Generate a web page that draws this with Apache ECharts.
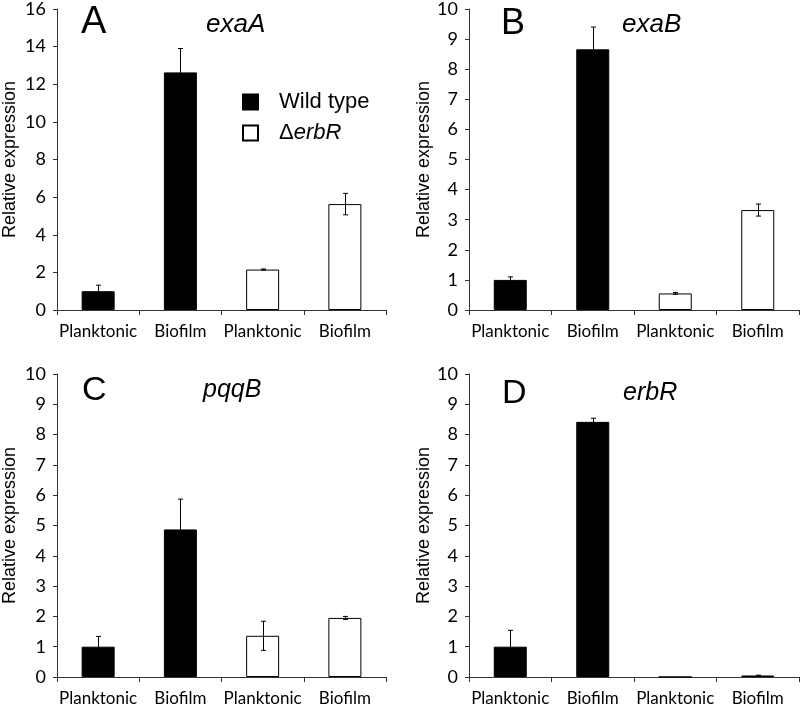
<!DOCTYPE html>
<html><head><meta charset="utf-8">
<script src="https://cdn.jsdelivr.net/npm/echarts@6/dist/echarts.min.js"></script>
<style>html,body{margin:0;padding:0;background:#fff}#c{width:800px;height:707px}</style>
</head><body><div id="c"></div>
<script>
const categories = ['Planktonic', 'Biofilm', 'Planktonic', 'Biofilm'];
const genotypeOfBar = ['Wild type', 'Wild type', 'ΔerbR', 'ΔerbR'];
const genotypes = ['Wild type', 'ΔerbR'];
const panelLetters = ['A', 'B', 'C', 'D'];
const geneNames = ['exaA', 'exaB', 'pqqB', 'erbR'];

const exaA = [1.0, 12.63, 2.15, 5.63];
const exaAErr = [0.32, 1.27, 0.03, 0.57];
const exaB = [1.0, 8.66, 0.55, 3.32];
const exaBErr = [0.10, 0.74, 0.03, 0.20];
const pqqB = [1.0, 4.87, 1.36, 1.95];
const pqqBErr = [0.34, 1.00, 0.48, 0.05];
const erbR = [1.0, 8.42, 0.0, 0.05];
const erbRErr = [0.54, 0.12, 0.0, 0.01];

const yMax = [16, 10, 10, 10];
const yInterval = [2, 1, 1, 1];
const yTitle = 'Relative expression';

const values = [exaA, exaB, pqqB, erbR];
const errors = [exaAErr, exaBErr, pqqBErr, erbRErr];

// layout (pixels)
const grids = [
  {left: 55, top: 7, width: 331, height: 303},
  {left: 469, top: 7, width: 330, height: 303},
  {left: 55, top: 374, width: 331, height: 303},
  {left: 469, top: 374, width: 330, height: 303}
];
const nameGaps = [38, 34, 38, 34];
// bottom of text box for panel letters and gene names
const letterPos = [
  {x: 81, y: 42, size: 38}, {x: 501, y: 42, size: 36},
  {x: 82, y: 408, size: 34}, {x: 502, y: 411, size: 34}
];
const genePos = [
  {x: 206, y: 38, size: 26}, {x: 622, y: 38, size: 26},
  {x: 203, y: 403, size: 25}, {x: 623, y: 406, size: 25}
];

const AX = '#333';
const SANS = 'Liberation Sans, Arial, sans-serif';
const TICKF = 'Lato, sans-serif';

const xAxes = [], yAxes = [], series = [], texts = [];
for (let p = 0; p < 4; p++) {
  xAxes.push({
    type: 'category', gridIndex: p, data: categories,
    axisLine: {lineStyle: {color: AX, width: 1}},
    axisTick: {show: true, length: 5, lineStyle: {color: AX}},
    axisLabel: {interval: 0, fontFamily: TICKF, fontSize: 17, color: '#000', margin: 13}
  });
  yAxes.push({
    type: 'value', gridIndex: p, min: 0, max: yMax[p], interval: yInterval[p],
    name: yTitle, nameLocation: 'middle', nameGap: nameGaps[p],
    nameTextStyle: {fontFamily: SANS, fontSize: 18, color: '#000'},
    axisLine: {show: true, lineStyle: {color: AX, width: 1}},
    axisTick: {show: true, length: 4, lineStyle: {color: AX}},
    splitLine: {show: false},
    axisLabel: {fontFamily: TICKF, fontSize: 18, color: '#000', margin: 11}
  });
  genotypes.forEach((g) => {
    series.push({
      type: 'bar', name: g, xAxisIndex: p, yAxisIndex: p, stack: 'panel' + p,
      barWidth: 33,
      data: values[p].map((v, i) => genotypeOfBar[i] === g ? v : '-'),
      itemStyle: g === 'Wild type'
        ? {color: '#000', borderColor: '#000', borderWidth: 1}
        : {color: '#fff', borderColor: '#000', borderWidth: 1},
      emphasis: {disabled: true},
      silent: true
    });
  });
  series.push({
    type: 'custom', name: 'err' + p, xAxisIndex: p, yAxisIndex: p,
    data: values[p].map((v, i) => [i, v, errors[p][i]]),
    renderItem: function (params, api) {
      const i = api.value(0), v = api.value(1), e = api.value(2);
      if (!(e > 0)) return null;
      const top = api.coord([i, v + e]);
      const bot = api.coord([i, Math.max(0, v - e)]);
      const x = Math.round(top[0]) + 0.5;
      const hw = 2.5;
      const st = {stroke: '#000', lineWidth: 1, fill: null};
      return {
        type: 'group', children: [
          {type: 'line', shape: {x1: x, y1: top[1], x2: x, y2: bot[1]}, style: st},
          {type: 'line', shape: {x1: x - hw, y1: top[1], x2: x + hw, y2: top[1]}, style: st},
          {type: 'line', shape: {x1: x - hw, y1: bot[1], x2: x + hw, y2: bot[1]}, style: st}
        ]
      };
    },
    z: 5, silent: true
  });
  texts.push({
    type: 'text', x: letterPos[p].x, y: letterPos[p].y, silent: true,
    style: {text: panelLetters[p], font: 'normal ' + letterPos[p].size + 'px ' + SANS,
      fill: '#000', align: 'left', verticalAlign: 'bottom'}
  });
  texts.push({
    type: 'text', x: genePos[p].x, y: genePos[p].y, silent: true,
    style: {text: geneNames[p], font: 'italic normal ' + genePos[p].size + 'px ' + SANS,
      fill: '#000', align: 'left', verticalAlign: 'bottom'}
  });
}

const chart = echarts.init(document.getElementById('c'), null, {renderer: 'canvas'});
chart.setOption({
  animation: false,
  backgroundColor: '#fff',
  graphic: {elements: texts},
  legend: {
    data: genotypes, orient: 'vertical', left: 242, top: 91, padding: 0,
    icon: 'rect', itemWidth: 15, itemHeight: 15, itemGap: 9, selectedMode: false,
    formatter: (n) => n === 'ΔerbR' ? '{d|Δ}{i|erbR}' : n,
    textStyle: {
      fontFamily: SANS, fontSize: 22, color: '#000', padding: [0, 0, 0, 16],
      rich: {
        d: {fontFamily: SANS, fontSize: 22, color: '#000'},
        i: {fontFamily: SANS, fontSize: 22, fontStyle: 'italic', color: '#000'}
      }
    }
  },
  grid: grids,
  xAxis: xAxes,
  yAxis: yAxes,
  series: series
});
</script></body></html>
